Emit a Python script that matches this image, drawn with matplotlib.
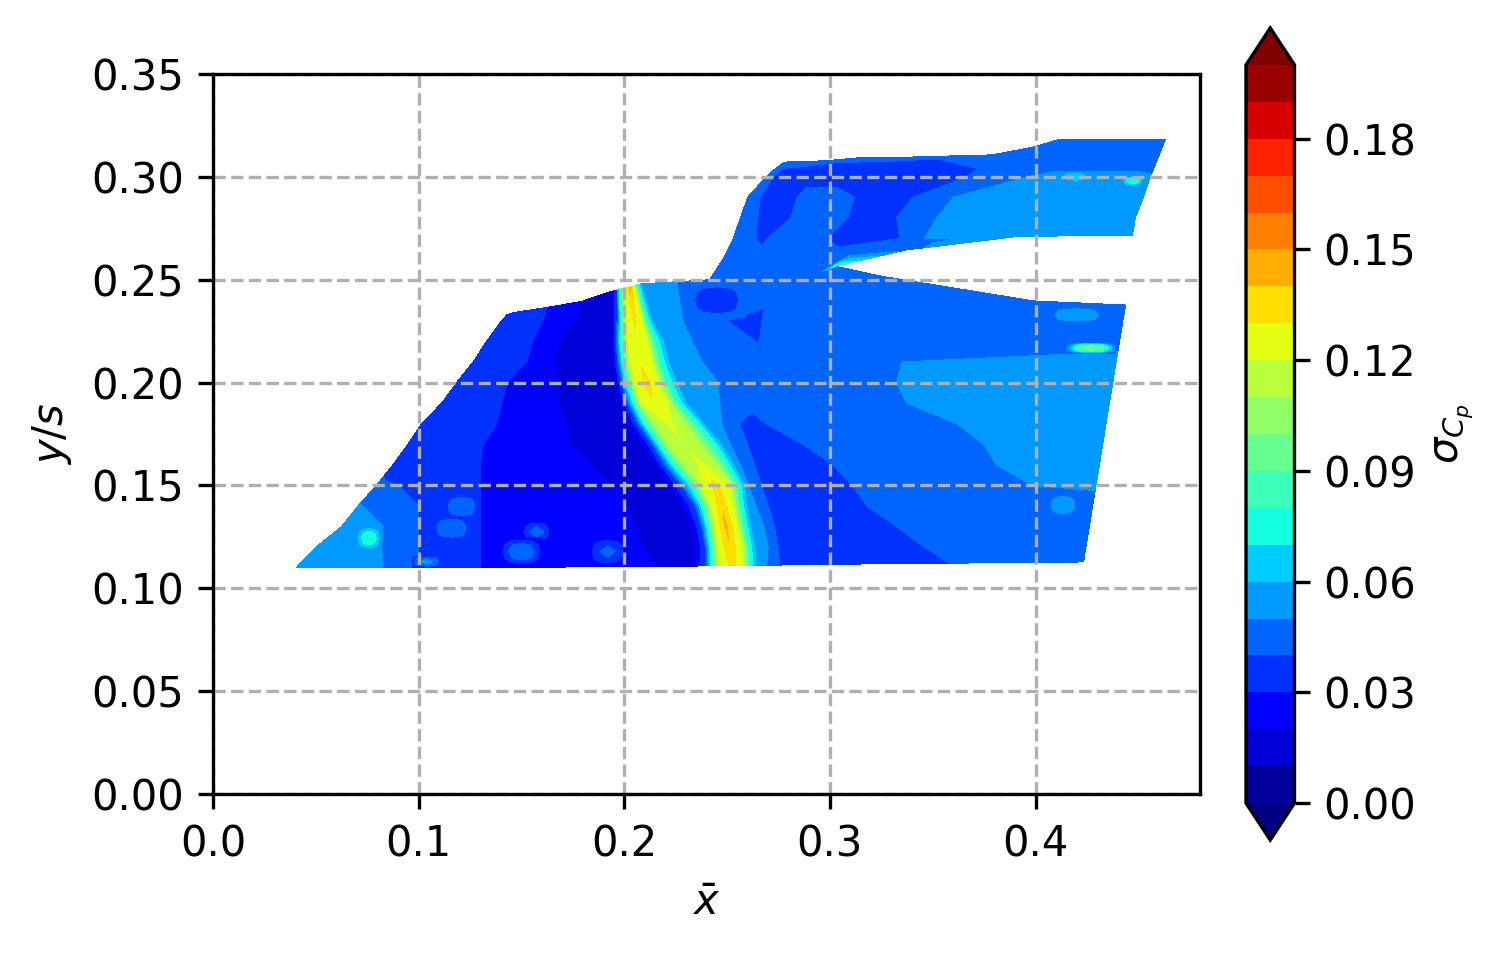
import numpy as np
import matplotlib
matplotlib.use("Agg")
import matplotlib.pyplot as plt

levels = [i / 100 for i in range(21)]
cbar_ticks = [0.00, 0.03, 0.06, 0.09, 0.12, 0.15, 0.18]
x_ticks = [0.0, 0.1, 0.2, 0.3, 0.4]
y_ticks = [0.00, 0.05, 0.10, 0.15, 0.20, 0.25, 0.30, 0.35]

lower_y = [0.11, 0.12, 0.13, 0.14, 0.15, 0.16, 0.17, 0.18, 0.19, 0.20, 0.21, 0.22, 0.23]
lower_bottom_y = [.1099, .1100, .1101, .1102, .1105, .1107, .1108, .1109, .1109, .1110,
                  .1110, .1110, .1111, .1111, .1112, .1113, .1118, .1122, .1125, .1128]
lower_top_y = [.233, .2335, .234, .2365, .2395, .2425, .2445, .245, .2455, .246,
               .2465, .247, .2475, .248, .249, .2505, .2565, .2517, .2397, .2377]
lower_x = [
    [.0404, .0827, .1006, .13, .2157, .226, .2340, .2395, .2430, .2465, .2525, .2577, .2610, .2640, .2693, .2756, .315, .358, .39, .4234],
    [.0500, .082, .100, .13, .209, .224, .2350, .2395, .2425, .2455, .2515, .2570, .2605, .2635, .2700, .2747, .31, .346, .385, .4245],
    [.0625, .0827, .100, .13, .206, .222, .2330, .2375, .2410, .2445, .2495, .2550, .2585, .2615, .2680, .2730, .30, .3325, .38, .4262],
    [.0705, .0725, .100, .13, .2012, .219, .2285, .2345, .2385, .2425, .2473, .2528, .2565, .2595, .264, .27, .294, .318, .375, .4278],
    [.0795, .0835, .090, .13, .1946, .2130, .2225, .2275, .2335, .2376, .2445, .2513, .2555, .2585, .2605, .2668, .289, .311, .3985, .4294],
    [.0875, .0895, .0915, .13, .1833, .201, .2155, .2195, .2245, .2295, .2375, .245, .2495, .253, .2565, .2635, .2825, .3015, .381, .4311],
    [.0948, .0968, .0988, .1315, .1735, .192, .2095, .2135, .2175, .2212, .229, .2368, .243, .247, .2515, .26, .2725, .287, .375, .4327],
    [.1014, .1034, .1054, .138, .172, .188, .2025, .2065, .2105, .2149, .222, .2295, .235, .2385, .2475, .256, .2625, .269, .3617, .4343],
    [.1112, .1132, .1152, .1405, .168, .184, .1985, .2015, .205, .2084, .2148, .2212, .226, .23, .2465, .2525, .262, .272, .3375, .436],
    [.1185, .1205, .1225, .143, .168, .183, .196, .1985, .2017, .2052, .2105, .2164, .221, .2255, .2455, .26, .28, .31, .3325, .4376],
    [.1265, .1285, .1305, .1525, .167, .182, .1945, .1968, .1995, .2027, .208, .2134, .2175, .2215, .238, .255, .275, .30, .335, .4392],
    [.133, .135, .137, .1555, .168, .182, .1945, .196, .1985, .2018, .2062, .211, .215, .219, .233, .262, .265, .268, .34, .4409],
    [.1403, .1423, .1443, .1605, .177, .186, .1945, .1965, .1985, .2013, .205, .2085, .211, .2135, .2285, .25, .258, .267, .34, .4425],
    [.143, .1445, .146, .1622, .1795, .188, .1945, .1965, .1982, .2, .2028, .2047, .2063, .208, .2255, .25, .303, .325, .399, .4438],
]
lower_z = [
    [.055, .05, .04, .03, .02, .0165, .02, .04, .08, .12, .134, .12, .08, .06, .05, .04, .034, .04, .045, .046],
    [.055, .05, .04, .03, .02, .0165, .02, .04, .08, .12, .139, .12, .08, .06, .05, .04, .034, .04, .045, .046],
    [.053, .05, .04, .03, .02, .0165, .02, .04, .08, .12, .142, .12, .08, .06, .05, .04, .034, .04, .045, .046],
    [.051, .05, .04, .03, .02, .0165, .02, .04, .08, .12, .139, .12, .08, .06, .05, .04, .034, .04, .045, .047],
    [.042, .041, .04, .03, .02, .0165, .02, .04, .08, .12, .133, .12, .08, .06, .05, .04, .034, .04, .05, .051],
    [.037, .036, .036, .03, .02, .0165, .02, .04, .08, .11, .122, .11, .08, .06, .05, .04, .034, .04, .05, .053],
    [.037, .036, .036, .03, .02, .0165, .02, .04, .08, .11, .119, .11, .08, .06, .05, .04, .034, .04, .05, .053],
    [.036, .036, .036, .03, .02, .0165, .02, .04, .08, .11, .122, .11, .08, .06, .05, .04, .035, .04, .05, .053],
    [.036, .036, .036, .03, .02, .0165, .02, .04, .08, .12, .128, .12, .08, .06, .05, .044, .044, .044, .05, .053],
    [.036, .036, .036, .03, .02, .0165, .02, .04, .08, .12, .136, .12, .08, .06, .05, .046, .046, .046, .05, .053],
    [.035, .035, .035, .03, .02, .0165, .02, .04, .08, .12, .128, .12, .08, .06, .05, .046, .046, .046, .05, .054],
    [.035, .035, .035, .03, .02, .0165, .02, .04, .08, .12, .128, .12, .08, .06, .05, .043, .039, .043, .046, .046],
    [.035, .035, .035, .03, .02, .0165, .02, .04, .08, .12, .132, .12, .08, .06, .05, .04, .037, .04, .046, .046],
    [.035, .035, .035, .03, .02, .0165, .02, .04, .08, .12, .142, .12, .08, .06, .05, .044, .05, .05, .046, .046],
]

# Upper measurement block, above the wedge-shaped gap.
upper_x = [
    [.2416, .25, .26, .27, .285, .295, .303, .32, .337, .346, .391, .447],
    [.248, .258, .268, .278, .29, .30, .31, .325, .34, .35, .395, .4475],
    [.253, .264, .2665, .274, .2905, .31, .334, .346, .37, .40, .43, .4478],
    [.2565, .265, .276, .2845, .3045, .315, .3325, .352, .375, .405, .43, .4485],
    [.26, .266, .278, .288, .3065, .32, .3403, .36, .38, .41, .435, .4525],
    [.269, .2725, .28, .29, .30, .33, .3665, .3957, .41, .43, .45, .4558],
    [.2735, .2765, .284, .294, .304, .33, .372, .398, .41, .43, .45, .4575],
    [.278, .29, .30, .313, .335, .36, .379, .399, .412, .43, .45, .4633],
]
upper_y = [
    [.25, .2505, .2515, .2525, .2525, .2535, .2566, .2605, .2645, .2655, .271, .2717],
    [.26, .26, .26, .26, .262, .263, .2625, .2645, .267, .268, .273, .2735],
    [.27, .27, .27, .27, .27, .27, .27, .27, .271, .273, .274, .275],
    [.28, .28, .28, .28, .28, .28, .28, .28, .28, .28, .28, .28],
    [.29, .29, .29, .29, .29, .29, .29, .29, .29, .29, .29, .29],
    [.30, .30, .30, .30, .30, .30, .30, .30, .30, .30, .30, .30],
    [.304, .304, .304, .304, .304, .304, .304, .304, .304, .304, .304, .304],
    [.3072, .3075, .308, .3092, .3095, .3102, .3107, .3145, .3184, .3184, .3184, .3184],
]
upper_z = [
    [.045, .045, .045, .045, .045, .045, .08, .065, .046, .05, .053, .052],
    [.046, .046, .046, .045, .045, .044, .044, .04, .04, .05, .052, .053],
    [.046, .04, .037, .044, .044, .034, .04, .05, .052, .052, .052, .052],
    [.046, .04, .034, .044, .044, .034, .04, .05, .053, .053, .053, .052],
    [.046, .04, .034, .044, .044, .034, .04, .05, .052, .054, .054, .053],
    [.046, .04, .036, .036, .036, .036, .04, .05, .058, .059, .059, .052],
    [.046, .04, .038, .037, .037, .037, .04, .046, .046, .046, .046, .046],
    [.045, .045, .045, .042, .042, .041, .045, .045, .045, .048, .046, .046],
]

# Small local hot spots: centre x, centre y, half widths, peak, surrounding value.
spot_x = [.0758, .1039, .1209, .116, .1574, .15, .192, .4271, .42, .4134, .4473, .4191, .4166, .245]
spot_y = [.1244, .1129, .1397, .1292, .1275, .1178, .1178, .2168, .2329, .1405, .2981, .3001, .2775, .24]
spot_rx = [.006, .007, .009, .009, .007, .010, .009, .012, .014, .007, .005, .007, .005, .014]
spot_ry = [.0055, .0026, .0065, .0055, .005, .0065, .0065, .0025, .004, .005, .0022, .0025, .0035, .0085]
spot_peak = [.08, .053, .046, .05, .044, .05, .043, .10, .056, .06, .08, .066, .058, .031]
spot_base = [.053, .035, .035, .035, .025, .025, .025, .046, .046, .046, .054, .054, .053, .045]
# Relative height of a hot spot on its 5 x 5 patch.
spot_shape = [
    [0.0, 0.0, 0.0, 0.0, 0.0],
    [0.0, 0.55, 0.8, 0.55, 0.0],
    [0.0, 0.8, 1.0, 0.8, 0.0],
    [0.0, 0.55, 0.8, 0.55, 0.0],
    [0.0, 0.0, 0.0, 0.0, 0.0],
]

X_low = np.array(lower_x)
Y_low = np.array([lower_bottom_y] + [[v] * X_low.shape[1] for v in lower_y[1:]] + [lower_top_y])
Z_low = np.array(lower_z)

fig = plt.figure(figsize=(1505 / 300, 954 / 300), dpi=300)
ax = fig.add_axes([213 / 1505, 1 - 794 / 954, (1200 - 213) / 1505, (794 - 74) / 954])
cax = fig.add_axes([1246 / 1505, 1 - 840 / 954, 48.5 / 1505, (840 - 28) / 954])

style = dict(levels=levels, cmap="jet", extend="both")
cs = ax.contourf(X_low, Y_low, Z_low, **style)
ax.contourf(np.array(upper_x), np.array(upper_y), np.array(upper_z), **style)
shape = np.array(spot_shape)
for cx, cy, rx, ry, peak, base in zip(spot_x, spot_y, spot_rx, spot_ry, spot_peak, spot_base):
    gx, gy = np.meshgrid(np.linspace(cx - rx, cx + rx, 5), np.linspace(cy - ry, cy + ry, 5))
    ax.contourf(gx, gy, base + (peak - base) * shape, **style)

ax.set_xlim(0, 0.48)
ax.set_ylim(0, 0.35)
ax.set_xticks(x_ticks)
ax.set_yticks(y_ticks)
ax.set_yticklabels([f"{v:.2f}" for v in y_ticks])
ax.grid(True, linestyle="--")
ax.set_xlabel(r"$\bar{x}$")
ax.set_ylabel(r"$y/s$")

cbar = fig.colorbar(cs, cax=cax, ticks=cbar_ticks, format="%.2f")
cbar.set_label(r"$\sigma_{C_p}$")

fig.savefig("out.png", dpi=300)
